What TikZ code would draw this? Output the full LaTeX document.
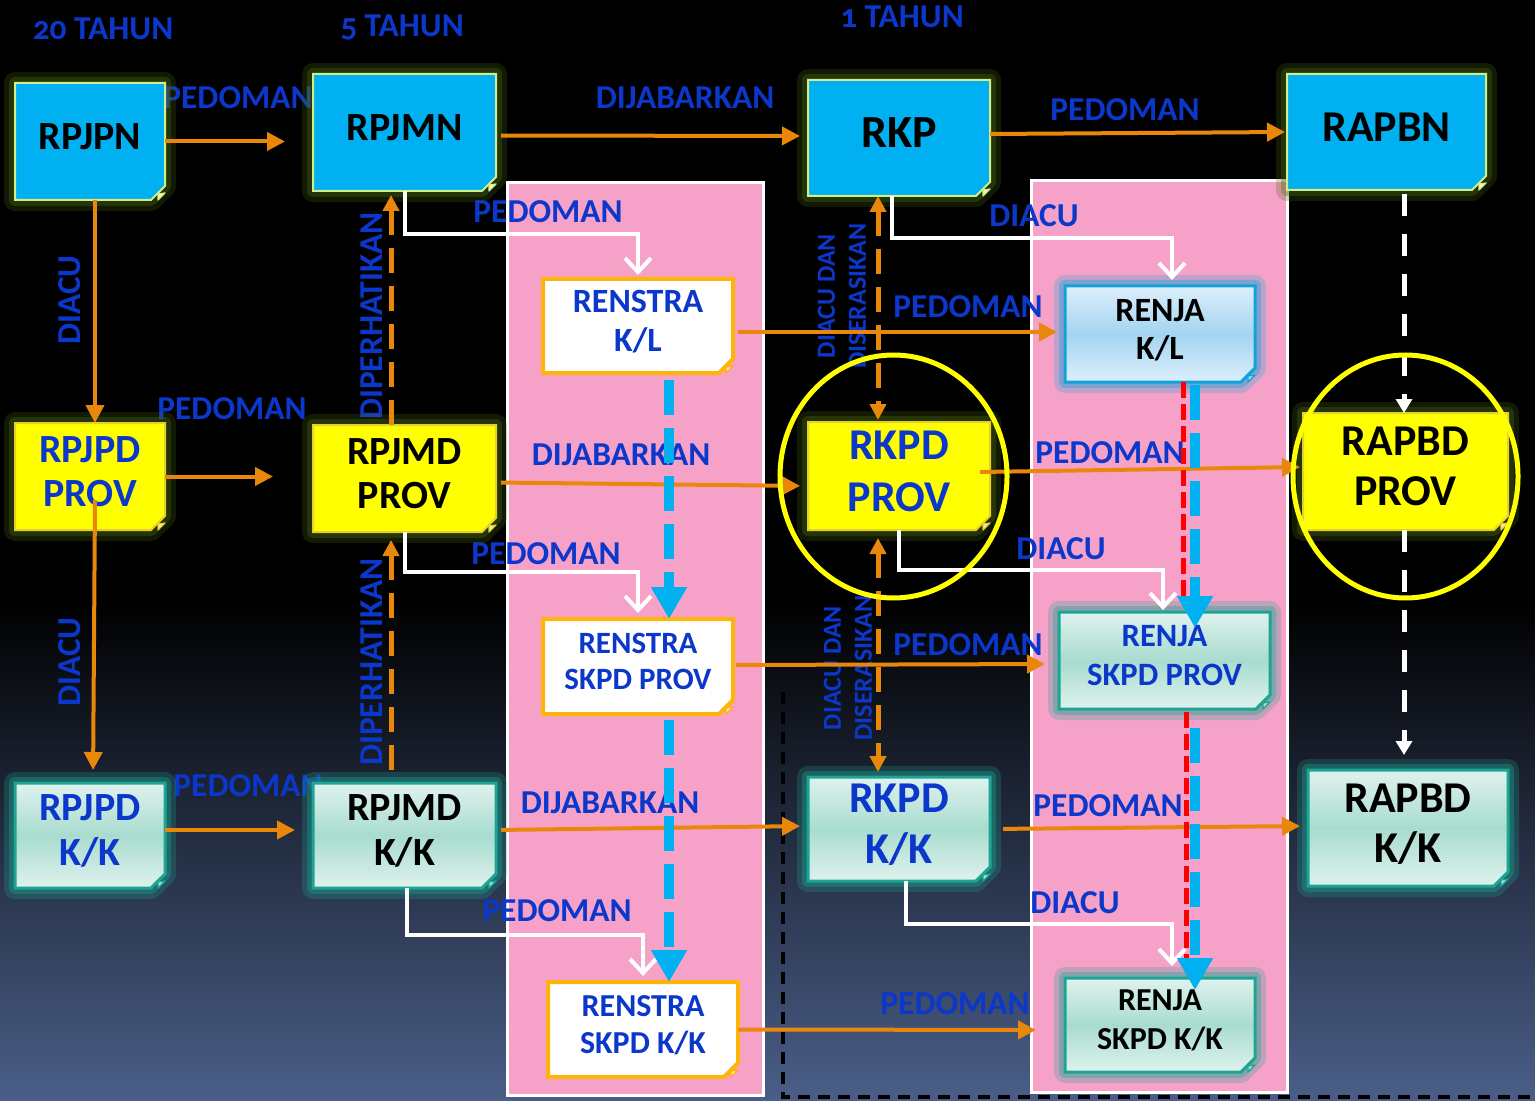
\documentclass[tikz,border=0pt]{standalone}
\usepackage{fontspec}
\setmainfont{Carlito}[Numbers=OldStyle]
\usepackage{xcolor}
\usepackage{tikz}
\usetikzlibrary{arrows.meta, positioning, shapes.misc, calc}
\definecolor{natcyan}{HTML}{00B0F0}
\definecolor{natedge}{HTML}{D2EE86}
\definecolor{glowolive}{HTML}{4A6A12}
\definecolor{provyel}{HTML}{FFFF00}
\definecolor{foldyel}{HTML}{E6CF2A}
\definecolor{kktop}{HTML}{DFF2EE}
\definecolor{kkmid}{HTML}{A8DCCF}
\definecolor{kkedge}{HTML}{1CA593}
\definecolor{renjatop}{HTML}{DDEFFB}
\definecolor{renjamid}{HTML}{A3D4F0}
\definecolor{renjaedge}{HTML}{12A2DB}
\definecolor{rsedge}{HTML}{FFB40A}
\definecolor{pinkbg}{HTML}{F6A2C8}
\definecolor{flowor}{HTML}{E8870A}
\definecolor{lblblue}{HTML}{0B37CB}
\definecolor{dashblue}{HTML}{00B0EF}
\definecolor{slate}{HTML}{4A5E88}
\newcommand{\setfs}[2]{\fontsize{#1}{#2}\selectfont\bfseries}

\begin{document}
\begin{tikzpicture}[x=0.5pt, y=-0.5pt,
    box/.style={chamfered rectangle, chamfered rectangle corners=south east,
                chamfered rectangle xsep=3.5pt, chamfered rectangle ysep=3.5pt,
                inner sep=0pt, outer sep=0pt, align=center, text depth=5pt},
    glow/.style={preaction={draw=#1, line width=11pt, opacity=.25, line join=round},
                 preaction={draw=#1, line width=6pt, opacity=.35, line join=round}},
    nat/.style={box, fill=natcyan, draw=natedge, line width=1pt, glow=glowolive,
                font=\setfs{20}{23}},
    prov/.style={box, fill=provyel, draw=foldyel, line width=1pt, glow=glowolive,
                font=\setfs{20}{22}},
    kk/.style={box, top color=kktop, bottom color=kktop, middle color=kkmid,
                draw=kkedge, line width=1.5pt, glow=kkedge, font=\setfs{20}{22.5}},
    renstra/.style={box, fill=white, draw=rsedge, line width=2pt, text=lblblue,
                font=\setfs{16}{18.5}},
    renja/.style={box, top color=renjatop, bottom color=renjatop, middle color=renjamid,
                draw=renjaedge, line width=1.5pt, glow=renjaedge, font=\setfs{17}{19}},
    lbl/.style={text=lblblue, inner sep=0pt, font=\setfs{16.7}{19}},
    vlbl/.style={lbl, rotate=90},
    slbl/.style={lbl, rotate=90, align=center, font=\setfs{13}{15.5}},
    flow/.style={draw=flowor, line width=2pt, -{Triangle[length=9pt,width=9pt]}},
    dflow/.style={draw=flowor, line width=2.5pt, dash pattern=on 12.5pt off 6.5pt,
                -{Triangle[length=8pt,width=8pt]}},
    wflow/.style={draw=white, line width=2pt, -{Straight Barb[length=7pt,width=13pt]}},
    wdash/.style={draw=white, line width=2.5pt, dash pattern=on 11pt off 9pt,
                -{Triangle[length=7pt,width=8pt]}},
    bdash/.style={draw=dashblue, line width=5pt, dash pattern=on 17.5pt off 6.5pt,
                -{Triangle[length=16pt,width=17pt]}},
    rdash/.style={draw=red, line width=2.5pt, dash pattern=on 8pt off 3pt}
]
\useasboundingbox (0,0) rectangle (1535,1101);
% background
\fill[black] (0,0) rectangle (1535,600);
\shade[top color=black, bottom color=slate] (0,600) rectangle (1535,1101);
\draw[white, line width=1.5pt, fill=pinkbg] (507,183) rectangle (763,1095);
\draw[white, line width=1.5pt, fill=pinkbg] (1031,181) rectangle (1287,1092);
\draw[black, line width=2pt, dash pattern=on 6pt off 4pt] (783,692) -- (783,1097) -- (1535,1097);

% labels
\node[lbl] (t20) at (103,29) {20 TAHUN};
\node[lbl] (t5) at (402,27) {5 TAHUN};
\node[lbl] (t1) at (902,17) {1 TAHUN};
\node[lbl] (lp1) at (238,98) {PEDOMAN};
\node[lbl] (ld1) at (685,98) {DIJABARKAN};
\node[lbl] (lp2) at (1125,110) {PEDOMAN};
\node[vlbl] (la1) at (70,300) {DIACU};
\node[lbl] (lp3) at (232,409) {PEDOMAN};
\node[vlbl] (lh1) at (372,316) {DIPERHATIKAN};
\node[lbl] (lp4) at (548,212) {PEDOMAN};
\node[lbl] (la2) at (1034,216) {DIACU};
\node[slbl] (ls1) at (842,296) {DIACU DAN\\DISERASIKAN};
\node[lbl] (lp5) at (968,307) {PEDOMAN};
\node[lbl] (ld2) at (621,455) {DIJABARKAN};
\node[lbl] (lp6) at (1110,453) {PEDOMAN};
\node[lbl] (la3) at (1061,549) {DIACU};
\node[lbl] (lp7) at (546,554) {PEDOMAN};
\node[vlbl] (lh2) at (372,662) {DIPERHATIKAN};
\node[slbl] (ls2) at (848,668) {DIACU DAN\\DISERASIKAN};
\node[lbl] (lp8) at (968,645) {PEDOMAN};
\node[vlbl] (la4) at (70,662) {DIACU};
\node[lbl] (lp9) at (248,786) {PEDOMAN};
\node[lbl] (ld3) at (610,803) {DIJABARKAN};
\node[lbl] (lp10) at (1108,806) {PEDOMAN};
\node[lbl] (la5) at (1075,903) {DIACU};
\node[lbl] (lp11) at (557,911) {PEDOMAN};
\node[lbl] (lp12) at (955,1004) {PEDOMAN};

% documents
\node[nat, minimum width=75pt, minimum height=58.5pt] (rpjpn) at (90,141.5) {RPJPN};
\node[nat, minimum width=91.5pt, minimum height=58.5pt] (rpjmn) at (404.5,132.5) {RPJMN};
\node[nat, minimum width=91pt, minimum height=58pt, font=\setfs{23}{27}] (rkp) at (899,138) {RKP};
\node[nat, minimum width=99.5pt, minimum height=58pt, font=\setfs{22}{26}] (rapbn) at (1386.5,132) {RAPBN};
\node[prov, minimum width=75pt, minimum height=53.5pt, text=lblblue] (rpjpdprov) at (90,476.5) {RPJPD\\PROV};
\node[prov, minimum width=91.5pt, minimum height=53.5pt] (rpjmdprov) at (404.5,478.5) {RPJMD\\PROV};
\node[prov, minimum width=91pt, minimum height=54pt, text=lblblue, font=\setfs{22}{26}] (rkpdprov) at (899,476) {RKPD\\PROV};
\node[prov, minimum width=102.5pt, minimum height=58.5pt, font=\setfs{22}{25}] (rapbdprov) at (1405.5,471.5) {RAPBD\\PROV};
\node[kk, minimum width=75pt, minimum height=52.5pt, text=lblblue] (rpjpdkk) at (90,835.5) {RPJPD\\K/K};
\node[kk, minimum width=91.5pt, minimum height=52.5pt] (rpjmdkk) at (404.5,835.5) {RPJMD\\K/K};
\node[kk, minimum width=91pt, minimum height=52pt, text=lblblue, font=\setfs{22}{25.5}] (rkpdkk) at (899,829) {RKPD\\K/K};
\node[kk, minimum width=100pt, minimum height=58pt, font=\setfs{22}{25}] (rapbdkk) at (1408,828) {RAPBD\\K/K};
\node[renstra, minimum width=95pt, minimum height=47pt, font=\setfs{17}{19.5}] (renstrakl) at (638,326) {RENSTRA\\K/L};
\node[renstra, minimum width=95pt, minimum height=47.5pt, font=\setfs{15.5}{18}] (renstraprov) at (638,666.5) {RENSTRA\\SKPD PROV};
\node[renstra, minimum width=95pt, minimum height=47.5pt] (renstrakk) at (643,1029.5) {RENSTRA\\SKPD K/K};
\node[renja, minimum width=95pt, minimum height=48pt] (renjakl) at (1160,334) {RENJA\\K/L};
\node[kk, minimum width=105.5pt, minimum height=48.5pt, text=lblblue, font=\setfs{16.3}{19.5}] (renjaprov) at (1164.5,660.5) {RENJA\\SKPD PROV};
\node[kk, minimum width=95pt, minimum height=47pt, font=\setfs{16}{19.5}] (renjakk) at (1160,1025) {RENJA\\SKPD K/K};

% folded corners
\foreach \n/\c in {rpjpn/natedge, rpjmn/natedge, rkp/natedge, rapbn/natedge,
                   rpjpdprov/foldyel, rpjmdprov/foldyel, rkpdprov/foldyel, rapbdprov/foldyel,
                   rpjpdkk/kkedge, rpjmdkk/kkedge, rkpdkk/kkedge, rapbdkk/kkedge,
                   renstrakl/rsedge, renstraprov/rsedge, renstrakk/rsedge,
                   renjakl/renjaedge, renjaprov/kkedge, renjakk/kkedge}
  \filldraw[draw=\c, fill=\c!35!white, line width=0.6pt, line join=round]
    ($(\n.south -| \n.east)+(-7,0)$) -- ($(\n.south -| \n.east)+(0,-7)$)
    -- ($(\n.south -| \n.east)+(-7,-6)$) -- cycle;

% national and regional flow
\draw[flow, shorten >=14pt] (rpjpn.east) -- ([yshift=-4.5pt]rpjmn.west);
\draw[flow, shorten <=2.5pt, shorten >=4pt] ([yshift=-1.5pt]rpjmn.east) -- ([yshift=1pt]rkp.west);
\draw[flow, shorten >=1pt] ([yshift=2pt]rkp.east) -- (rapbn.west);
\draw[flow] ([xshift=2.5pt]rpjpn.south) -- ([xshift=2.5pt]rpjpdprov.north);
\draw[flow, shorten >=20pt] (rpjpdprov.east) -- ([yshift=1pt]rpjmdprov.west);
\draw[flow, shorten <=2.5pt, shorten >=4pt] ([yshift=-2pt]rpjmdprov.east) -- ([yshift=-5pt]rkpdprov.west);
\draw[flow, shorten >=1.5pt] ([xshift=-5pt, yshift=2pt]rkpdprov.east) -- ([yshift=2.25pt]rapbdprov.west);
\draw[flow, shorten >=6.5pt] ([xshift=2.5pt, yshift=-11.75pt]rpjpdprov.center) -- ([xshift=1.5pt]rpjpdkk.north);
\draw[flow, shorten >=9pt] ([yshift=2.75pt]rpjpdkk.east) -- ([yshift=2.75pt]rpjmdkk.west);
\draw[flow, shorten <=2.5pt, shorten >=4pt] ([yshift=2.75pt]rpjmdkk.east) -- ([yshift=1.5pt]rkpdkk.west);
\draw[flow, shorten <=6.5pt, shorten >=4pt] (rkpdkk.east) -- ([yshift=1pt]rapbdkk.west);
\draw[flow, shorten <=2.5pt, shorten >=4pt] ([yshift=-3pt]renstrakl.east) -- ([yshift=1pt]renjakl.west);
\draw[flow, shorten <=1.5pt, shorten >=7pt] ([yshift=0.75pt]renstraprov.east) -- ([yshift=-1.75pt]renjaprov.west);
\draw[flow, shorten >=14.5pt] (renstrakk.east) -- ([yshift=-2.5pt]renjakk.west);

% diperhatikan, diacu dan diserasikan
\draw[dflow, shorten >=2pt] ([xshift=-6.75pt]rpjmdprov.north) -- ([xshift=-6.75pt]rpjmn.south);
\draw[dflow, shorten <=6.5pt, shorten >=4pt] ([xshift=-6.75pt]rpjmdkk.north) -- ([xshift=-6.75pt]rpjmdprov.south);
\draw[dflow, {Triangle[length=8pt,width=8pt]}-{Triangle[length=8pt,width=8pt]}, shorten >=1pt]
    ([xshift=-10.5pt]rkp.south) -- ([xshift=-10.5pt]rkpdprov.north);
\draw[dflow, {Triangle[length=8pt,width=8pt]}-{Triangle[length=8pt,width=8pt]}, shorten <=4pt, shorten >=2.5pt]
    ([xshift=-10.5pt]rkpdprov.south) -- ([xshift=-10.5pt]rkpdkk.north);

% budget line
\draw[wdash, shorten <=2pt] ([xshift=8.75pt]rapbn.south) -- ([xshift=-0.75pt]rapbdprov.north);
\draw[wdash, shorten >=7.5pt] ([xshift=-0.75pt]rapbdprov.south) -- ([xshift=-2pt]rapbdkk.north);

% pedoman / diacu elbows
\draw[wflow, shorten >=2pt] (rpjmn.south) -- ++(0,43) -| (renstrakl.north);
\draw[wflow, shorten >=3pt] (rpjmdprov.south) -- ++(0,40) -| (renstraprov.north);
\draw[wflow, shorten >=3pt] ([xshift=1pt]rpjmdkk.south) -- ++(0,47) -| (renstrakk.north);
\draw[wflow, shorten >=3pt] ([xshift=-3.5pt]rkp.south) -- ++(0,42) -| ([xshift=6pt]renjakl.north);
\draw[wflow, shorten >=1pt] (rkpdprov.south) -- ++(0,40) -| ([xshift=-0.75pt]renjaprov.north);
\draw[wflow, shorten >=6pt] ([xshift=3.5pt]rkpdkk.south) -- ++(0,43) -| ([xshift=6pt]renjakk.north);

% highlights
\draw[provyel, line width=2.5pt] (893.5,476.5) ellipse [x radius=56.75pt, y radius=60.75pt];
\draw[provyel, line width=2.5pt] (1405.5,476.5) ellipse [x radius=56.25pt, y radius=60.75pt];

% renstra / renja chains
\draw[bdash, shorten <=3.5pt] ([xshift=15.5pt]renstrakl.south) -- ([xshift=15.5pt]renstraprov.north);
\draw[bdash, shorten <=3pt] ([xshift=15.5pt]renstraprov.south) -- ([xshift=13pt]renstrakk.north);
\draw[rdash, shorten >=6pt] ([xshift=11.5pt]renjakl.south) -- ([xshift=9.25pt]renjaprov.north);
\draw[rdash, shorten <=1.5pt, shorten >=6.5pt] ([xshift=10.75pt]renjaprov.south) -- ([xshift=13pt]renjakk.north);
\draw[bdash, shorten <=1.5pt, shorten >=-8pt] ([xshift=17.5pt]renjakl.south) -- ([xshift=15.25pt]renjaprov.north);
\draw[bdash, shorten <=9.5pt, shorten >=-6pt] ([xshift=15.25pt]renjaprov.south) -- ([xshift=17.5pt]renjakk.north);
\end{tikzpicture}
\end{document}
